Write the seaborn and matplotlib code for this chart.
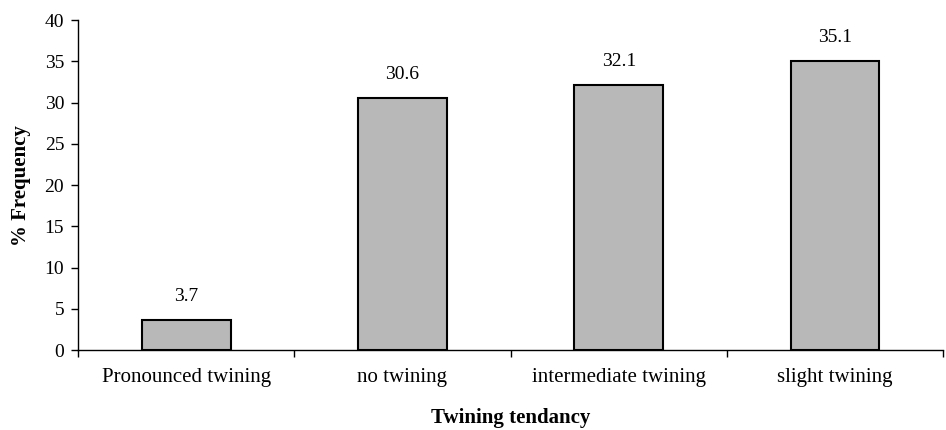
import matplotlib
matplotlib.use("Agg")
import matplotlib.pyplot as plt
from matplotlib.ticker import FixedLocator
import seaborn as sns
import pandas as pd

categories = ["Pronounced twining", "no twining", "intermediate twining", "slight twining"]
frequency = [3.7, 30.6, 32.1, 35.1]
y_ticks = [0, 5, 10, 15, 20, 25, 30, 35, 40]

sns.set_style("white")
plt.rcParams["font.family"] = ["Liberation Serif", "DejaVu Serif"]
plt.rcParams["text.color"] = "black"
plt.rcParams["axes.labelcolor"] = "black"
plt.rcParams["xtick.color"] = "black"
plt.rcParams["ytick.color"] = "black"

df = pd.DataFrame({"tendency": categories, "freq": frequency})

fig = plt.figure(figsize=(9.46, 4.30), dpi=100)
ax = fig.add_axes([0.0825, 0.186, 0.9145, 0.767])

sns.barplot(data=df, x="tendency", y="freq", color="#b8b8b8", saturation=1,
            edgecolor="black", linewidth=1.5, width=0.41, ax=ax)

for i, v in enumerate(frequency):
    ax.text(i, v + 2.3, f"{v:.1f}", ha="center", va="baseline", fontsize=14,
            color="black")

ax.set_xlim(-0.5, 3.5)
ax.set_ylim(0, 40)
ax.set_yticks(y_ticks)
ax.tick_params(axis="y", direction="out", length=5, width=1, color="black",
               labelcolor="black", labelsize=14, pad=5, left=True)
ax.tick_params(axis="x", which="major", length=0, labelsize=15, pad=13,
               labelcolor="black")
ax.xaxis.set_minor_locator(FixedLocator([-0.5, 0.5, 1.5, 2.5, 3.5]))
ax.tick_params(axis="x", which="minor", direction="out", length=5, width=1,
               color="black", bottom=True)

for side in ["top", "right"]:
    ax.spines[side].set_visible(False)
for side in ["left", "bottom"]:
    ax.spines[side].set_color("black")
    ax.spines[side].set_linewidth(1)

ax.set_xlabel("Twining tendancy", fontsize=15, fontweight="bold", labelpad=15,
              color="black")
ax.set_ylabel("% Frequency", fontsize=15, fontweight="bold", labelpad=10,
              color="black")

fig.savefig("out.png", dpi=100, facecolor="white")
